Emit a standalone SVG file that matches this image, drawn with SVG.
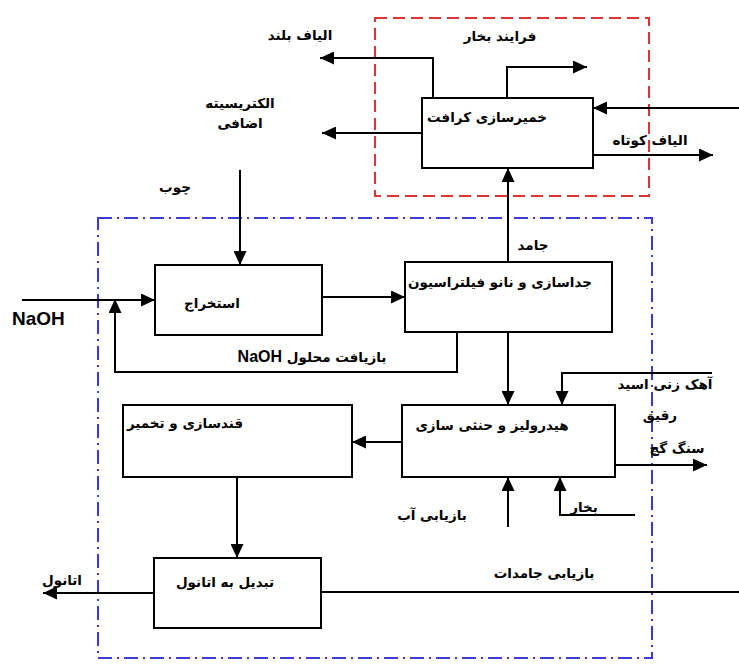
<svg xmlns="http://www.w3.org/2000/svg" width="739" height="664" viewBox="0 0 739 664">
<style>
.box{fill:#fff;stroke:#000;stroke-width:2}
.ln{fill:none;stroke:#000;stroke-width:2}
.t{font-family:"DejaVu Sans","Noto Sans",sans-serif;font-weight:bold;font-size:13.5px;fill:#000;text-anchor:middle}
.en{font-family:"Liberation Sans",Arial,sans-serif;font-weight:bold;fill:#000}
</style>
<defs>
<marker id="ah" markerUnits="userSpaceOnUse" markerWidth="15" markerHeight="13" refX="14" refY="6.5" orient="auto">
<path d="M0,0 L14,6.5 L0,13 z" fill="#000"/>
</marker>
</defs>
<rect width="739" height="664" fill="#fff"/>
<rect x="375" y="18" width="274" height="178" fill="none" stroke="#e03434" stroke-width="2" stroke-dasharray="12,6"/>
<rect x="98" y="218" width="554" height="440" fill="none" stroke="#3c3cd4" stroke-width="2" stroke-dasharray="14,5,2,5"/>
<g id="connectors">
<path class="ln" d="M433,98 V58 H320" marker-end="url(#ah)"/>
<path class="ln" d="M507,98 V67 H587" marker-end="url(#ah)"/>
<path class="ln" d="M422,133 H322" marker-end="url(#ah)"/>
<path class="ln" d="M739,108 H593" marker-end="url(#ah)"/>
<path class="ln" d="M593,155 H713" marker-end="url(#ah)"/>
<path class="ln" d="M508,262 V168" marker-end="url(#ah)"/>
<path class="ln" d="M240,170 V265" marker-end="url(#ah)"/>
<path class="ln" d="M22,300 H155" marker-end="url(#ah)"/>
<path class="ln" d="M457,332 V372 H115 V299" marker-end="url(#ah)"/>
<path class="ln" d="M322,297 H405" marker-end="url(#ah)"/>
<path class="ln" d="M508,332 V405" marker-end="url(#ah)"/>
<path class="ln" d="M712,373 H562 V405" marker-end="url(#ah)"/>
<path class="ln" d="M402,442 H352" marker-end="url(#ah)"/>
<path class="ln" d="M615,465 H707" marker-end="url(#ah)"/>
<path class="ln" d="M508,527 V477" marker-end="url(#ah)"/>
<path class="ln" d="M635,515 H560 V477" marker-end="url(#ah)"/>
<path class="ln" d="M237,477 V558" marker-end="url(#ah)"/>
<path class="ln" d="M154,593 H43" marker-end="url(#ah)"/>
<path class="ln" d="M739,592 H321"/>
</g>
<g id="kraft">
<rect class="box" x="422" y="98" width="171" height="70"/>
<text class="t" x="487" y="122" direction="rtl">خمیرسازی کرافت</text>
</g>
<g id="extraction">
<rect class="box" x="155" y="265" width="167" height="70"/>
<text class="t" x="212" y="308" direction="rtl">استخراج</text>
</g>
<g id="separation">
<rect class="box" x="405" y="262" width="207" height="70"/>
<text class="t" x="500" y="287" direction="rtl">جداسازی و نانو فیلتراسیون</text>
</g>
<g id="hydrolysis">
<rect class="box" x="402" y="405" width="213" height="72"/>
<text class="t" x="492" y="430" direction="rtl">هیدرولیز و حنثی سازی</text>
</g>
<g id="saccharification">
<rect class="box" x="123" y="405" width="229" height="72"/>
<text class="t" x="185" y="428" direction="rtl">قندسازی و تخمیر</text>
</g>
<g id="ethanol">
<rect class="box" x="154" y="558" width="167" height="70"/>
<text class="t" x="225" y="587" direction="rtl">تبدیل به اتانول</text>
</g>
<g id="labels">
<text class="t" x="300" y="40" direction="rtl">الیاف بلند</text>
<text class="t" x="500" y="41" direction="rtl">فرایند بخار</text>
<text class="t" x="650" y="145" direction="rtl">الیاف کوتاه</text>
<text class="t" x="240" y="108" direction="rtl">الکتریسیته</text>
<text class="t" x="240" y="128" direction="rtl">اضافی</text>
<text class="t" x="175" y="192" direction="rtl">چوب</text>
<text class="en" x="12" y="325" font-size="19">NaOH</text>
<text class="t" x="312" y="362" direction="rtl">بازیافت محلول <tspan class="en" font-size="16">NaOH</tspan></text>
<text class="t" x="533" y="250" direction="rtl">جامد</text>
<text class="t" x="665" y="389" direction="rtl">آهک زنی اسید</text>
<text class="t" x="660" y="420" direction="rtl">رقیق</text>
<text class="t" x="677" y="453" direction="rtl">سنگ گچ</text>
<text class="t" x="584" y="512" direction="rtl">بخار</text>
<text class="t" x="432" y="520" direction="rtl">بازیابی آب</text>
<text class="t" x="544" y="578" direction="rtl">بازیابی جامدات</text>
<text class="t" x="62" y="585" direction="rtl">اتانول</text>
</g>
</svg>
